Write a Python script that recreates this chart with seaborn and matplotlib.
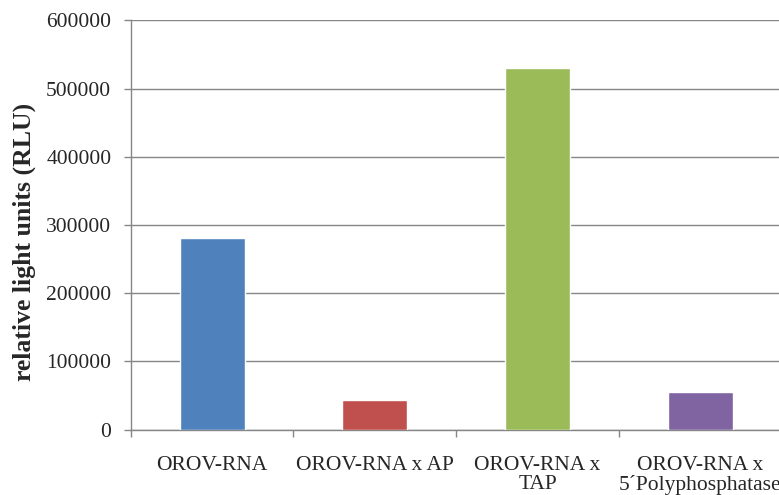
import matplotlib
matplotlib.use("Agg")
import matplotlib.pyplot as plt
import seaborn as sns
import pandas as pd

categories = ["OROV-RNA", "OROV-RNA x AP", "OROV-RNA x\nTAP", "OROV-RNA x\n5´Polyphosphatase"]
values = [281000, 43000, 530000, 55000]
colors = ["#4F81BD", "#C0504D", "#9BBB59", "#8064A2"]
y_ticks = [0, 100000, 200000, 300000, 400000, 500000, 600000]

sns.set_theme(style="white")
plt.rcParams["font.family"] = ["Liberation Serif", "DejaVu Serif"]

df = pd.DataFrame({"sample": categories, "rlu": values})

fig = plt.figure(figsize=(7.79, 4.95), dpi=100)
ax = fig.add_axes([0.1678, 0.1323, 0.8355, 0.8263])

sns.barplot(data=df, x="sample", y="rlu", hue="sample", palette=colors,
            width=0.4, legend=False, saturation=1, ax=ax, zorder=3)

ax.set_ylim(0, 600000)
ax.set_xlim(-0.5, 3.5)
ax.set_yticks(y_ticks)
ax.set_yticklabels([str(v) for v in y_ticks])
ax.yaxis.grid(True, color="#868686", linewidth=1.0, zorder=0)
ax.set_axisbelow(True)

# category boundaries carry the tick marks, labels sit between them
ax.set_xticks([-0.5, 0.5, 1.5, 2.5, 3.5], minor=False)
ax.set_xticklabels([])
ax.set_xticks([0, 1, 2, 3], minor=True)
ax.set_xticklabels(categories, minor=True, fontsize=15.5, linespacing=1.0, va="top")
ax.tick_params(axis="x", which="major", direction="out", length=5, width=1,
               color="#868686", bottom=True)
ax.tick_params(axis="x", which="minor", length=0, pad=19)
ax.tick_params(axis="y", direction="out", length=5, width=1, color="#868686",
               labelsize=15.5, pad=9, left=True)

for side in ("top", "right"):
    ax.spines[side].set_visible(False)
for side in ("left", "bottom"):
    ax.spines[side].set_color("#868686")
    ax.spines[side].set_linewidth(1.0)

ax.set_xlabel("")
ax.set_ylabel("relative light units (RLU)", fontsize=18.5, fontweight="bold")
ax.yaxis.set_label_coords(-0.146, 0.458)

fig.savefig("out.png", dpi=100)
